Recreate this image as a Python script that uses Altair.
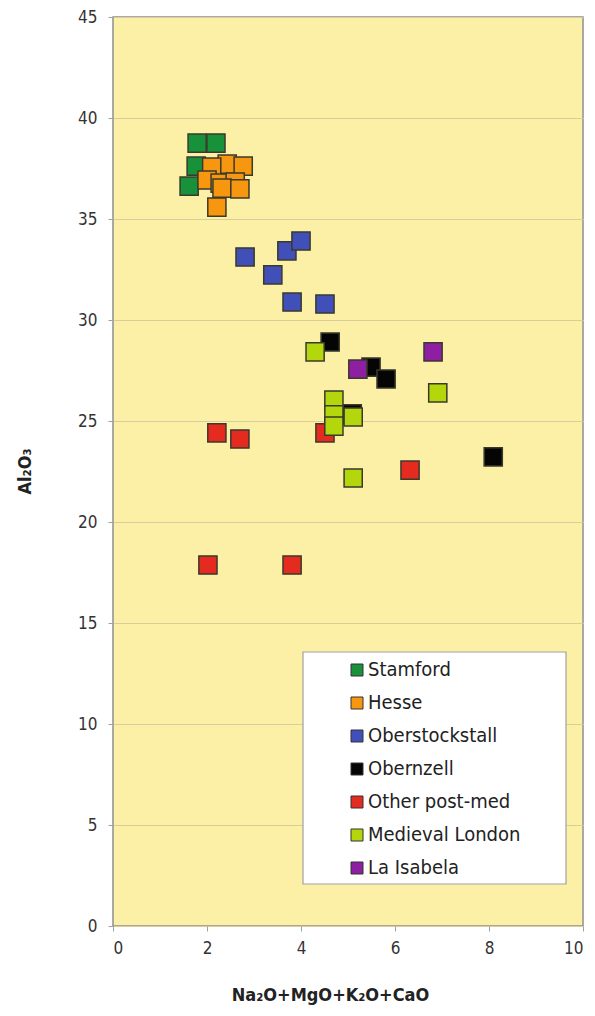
import altair as alt
import pandas as pd

groups = ["Stamford", "Hesse", "Oberstockstall", "Obernzell",
          "Other post-med", "Medieval London", "La Isabela"]
colors = ["#17913a", "#f7970f", "#4150b8", "#050505",
          "#e52b1f", "#b4d60c", "#8e1fa2"]

stamford_x = [1.79, 2.19, 1.77, 1.62]
stamford_y = [38.76, 38.76, 37.62, 36.63]
hesse_x = [2.43, 2.77, 2.10, 2.00, 2.28, 2.60, 2.32, 2.70, 2.21]
hesse_y = [37.72, 37.62, 37.57, 36.93, 36.78, 36.83, 36.53, 36.49, 35.59]
ober_x = [2.81, 3.70, 4.00, 3.40, 3.81, 4.51]
ober_y = [33.12, 33.42, 33.91, 32.23, 30.89, 30.79]
obernzell_x = [4.62, 5.49, 5.81, 8.09, 5.09]
obernzell_y = [28.91, 27.67, 27.08, 23.22, 25.35]
postmed_x = [2.21, 2.70, 4.51, 6.32, 2.02, 3.81]
postmed_y = [24.41, 24.11, 24.41, 22.57, 17.87, 17.87]
london_x = [4.30, 4.70, 4.70, 4.70, 5.11, 6.91, 5.11]
london_y = [28.42, 26.04, 25.30, 24.75, 25.20, 26.39, 22.18]
isabela_x = [5.21, 6.81]
isabela_y = [27.57, 28.42]

series = [(stamford_x, stamford_y), (hesse_x, hesse_y), (ober_x, ober_y),
          (obernzell_x, obernzell_y), (postmed_x, postmed_y),
          (london_x, london_y), (isabela_x, isabela_y)]

rows = []
order = 0
for g, (xs, ys) in zip(groups, series):
    for x, y in zip(xs, ys):
        rows.append({"group": g, "x": x, "y": y, "order": order})
        order += 1
df = pd.DataFrame(rows)

FONT = "DejaVu Sans Condensed, DejaVu Sans"

x_ticks = [0, 2, 4, 6, 8, 10]
y_ticks = [0, 5, 10, 15, 20, 25, 30, 35, 40, 45]

legend_box = alt.Chart(pd.DataFrame({"k": [0]})).mark_rect(
    fill="white", stroke="#a0a0a0", strokeWidth=1.2
).encode(
    x=alt.value(190), x2=alt.value(453), y=alt.value(635), y2=alt.value(867)
)

points = alt.Chart(df).mark_point(
    shape="square", filled=True, size=330, opacity=1,
    stroke="#3a3a2c", strokeWidth=1.5
).encode(
    x=alt.X("x:Q", scale=alt.Scale(domain=[0, 10], nice=False, zero=False),
            axis=alt.Axis(values=x_ticks, grid=False, domain=False,
                          tickSize=5, tickColor="#a0a0a0", labelPadding=9,
                          labelFont=FONT, labelFontSize=17, labelColor="#333333",
                          title="Na₂O+MgO+K₂O+CaO", titleFont=FONT,
                          titleFontSize=18, titleFontWeight="bold",
                          titleColor="#222222", titleX=217, titleY=69,
                          titleAlign="center", titleBaseline="middle")),
    y=alt.Y("y:Q", scale=alt.Scale(domain=[0, 45], nice=False, zero=False),
            axis=alt.Axis(values=y_ticks, grid=True, gridColor="#d8cd9c",
                          gridWidth=1.2, domain=False, tickSize=5,
                          tickColor="#a0a0a0", labelPadding=11,
                          labelFont=FONT, labelFontSize=17, labelColor="#333333",
                          title="Al₂O₃", titleFont=FONT, titleFontSize=18,
                          titleFontWeight="bold", titleColor="#222222",
                          titleX=-88, titleY=454, titleAngle=270,
                          titleAlign="center", titleBaseline="middle")),
    color=alt.Color("group:N", scale=alt.Scale(domain=groups, range=colors),
                    legend=alt.Legend(
                        orient="none", legendX=234, legendY=643, title=None,
                        symbolType="square", symbolSize=144,
                        symbolStrokeColor="#333333", symbolStrokeWidth=1,
                        labelFont=FONT, labelFontSize=20, labelColor="#222222",
                        labelOffset=1, rowPadding=13, padding=0,
                        labelLimit=300)),
    order=alt.Order("order:Q")
)

chart = alt.layer(legend_box, points).properties(
    width=470, height=909,
    autosize=alt.AutoSizeParams(type="none"),
    padding={"left": 105, "top": 9, "right": 4, "bottom": 80},
    background="white"
).configure_view(
    fill="#fcf0a7", stroke="#8e8e8e", strokeWidth=1.5
)

chart.save("out.html", embed_options={"renderer": "svg", "actions": False})
